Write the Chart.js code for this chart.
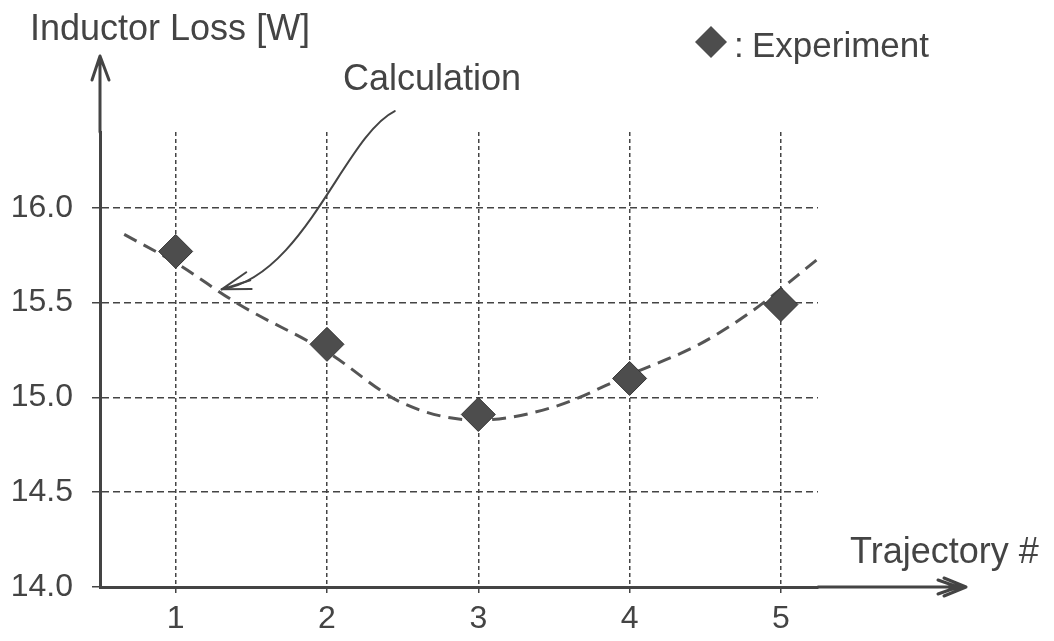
<!DOCTYPE html>
<html>
<head>
<meta charset="utf-8">
<script src="https://cdn.jsdelivr.net/npm/chart.js@4/dist/chart.umd.min.js"></script>
<style>
  html, body { margin: 0; padding: 0; background: #fff; }
</style>
</head>
<body>
<canvas id="chart" width="1054" height="641"></canvas>
<script>
// tick values
const xTicks = [1, 2, 3, 4, 5];
const yTicks = [14.0, 14.5, 15.0, 15.5, 16.0];

// measured points (diamonds)
const expX = [1, 2, 3, 4, 5];
const expY = [15.77, 15.28, 14.91, 15.10, 15.49];

// calculated curve
const calcX = [0.66, 1.0, 1.42, 2.0, 2.5, 3.0, 3.5, 4.0, 4.46, 4.8, 5.26];
const calcY = [15.86, 15.71, 15.49, 15.24, 14.97, 14.88, 14.95, 15.12, 15.28, 15.45, 15.74];

const ink = '#444';
const family = '"Liberation Sans", Arial, sans-serif';

// arrows, labels and the callout that Chart.js has no option for
const decor = {
  id: 'decor',
  afterDraw(chart) {
    const ctx = chart.ctx;
    const xs = chart.scales.x;
    const ys = chart.scales.y;
    const area = chart.chartArea;

    ctx.save();
    ctx.strokeStyle = ink;
    ctx.fillStyle = ink;
    ctx.lineCap = 'round';
    ctx.lineJoin = 'round';

    // y axis going up with open arrow head
    ctx.lineWidth = 3;
    ctx.beginPath();
    ctx.moveTo(area.left, area.top);
    ctx.lineTo(area.left, 56);
    ctx.moveTo(area.left - 8, 80);
    ctx.lineTo(area.left, 56);
    ctx.lineTo(area.left + 9, 80);
    ctx.stroke();

    // x axis going right, double head
    ctx.beginPath();
    ctx.moveTo(area.right, area.bottom);
    ctx.lineTo(966, area.bottom);
    ctx.moveTo(944, area.bottom - 9);
    ctx.lineTo(966, area.bottom);
    ctx.lineTo(944, area.bottom + 9);
    ctx.moveTo(938, area.bottom - 7);
    ctx.lineTo(958, area.bottom);
    ctx.lineTo(938, area.bottom + 7);
    ctx.stroke();

    // callout from "Calculation" to the dashed curve
    const p = [[2.448, 16.51], [2.117, 16.38], [1.853, 15.64], [1.304, 15.57]]
      .map(([vx, vy]) => [xs.getPixelForValue(vx), ys.getPixelForValue(vy)]);
    ctx.lineWidth = 2;
    ctx.beginPath();
    ctx.moveTo(p[0][0], p[0][1]);
    ctx.bezierCurveTo(p[1][0], p[1][1], p[2][0], p[2][1], p[3][0], p[3][1]);
    ctx.stroke();
    const ang = Math.atan2(p[2][1] - p[3][1], p[2][0] - p[3][0]);
    ctx.beginPath();
    [-0.45, -0.15, 0.15].forEach(d => {
      ctx.moveTo(p[3][0], p[3][1]);
      ctx.lineTo(p[3][0] + 30 * Math.cos(ang + d), p[3][1] + 30 * Math.sin(ang + d));
    });
    ctx.stroke();

    // legend diamond
    const lx = 711, ly = 42, r = 16;
    ctx.fillStyle = '#4d4d4d';
    ctx.beginPath();
    ctx.moveTo(lx - r, ly);
    ctx.lineTo(lx, ly - r);
    ctx.lineTo(lx + r, ly);
    ctx.lineTo(lx, ly + r);
    ctx.closePath();
    ctx.fill();

    // texts
    ctx.fillStyle = ink;
    ctx.textBaseline = 'alphabetic';
    ctx.textAlign = 'left';
    ctx.font = '36px ' + family;
    ctx.fillText('Inductor Loss [W]', 30, 40);
    ctx.fillText('Calculation', 343, 90);
    ctx.fillText('Trajectory #', 850, 563);
    ctx.font = '35px ' + family;
    ctx.fillText(':', 734, 57);
    ctx.fillText('Experiment', 752, 57);
    ctx.restore();
  }
};

new Chart(document.getElementById('chart'), {
  type: 'scatter',
  data: {
    datasets: [
      {
        label: 'Experiment',
        data: expX.map((x, i) => ({ x: x, y: expY[i] })),
        pointStyle: 'rectRot',
        pointRadius: 17,
        backgroundColor: '#4d4d4d',
        borderColor: '#333',
        borderWidth: 1,
        order: 0
      },
      {
        label: 'Calculation',
        data: calcX.map((x, i) => ({ x: x, y: calcY[i] })),
        showLine: true,
        pointRadius: 0,
        borderColor: '#555',
        borderWidth: 3,
        borderDash: [14, 8],
        cubicInterpolationMode: 'monotone',
        order: 1
      }
    ]
  },
  options: {
    responsive: false,
    animation: false,
    layout: { padding: { top: 132, right: 236, left: 0, bottom: 0 } },
    plugins: {
      legend: { display: false },
      tooltip: { enabled: false }
    },
    scales: {
      x: {
        type: 'linear',
        min: 0.5,
        max: 5.245,
        afterBuildTicks: s => { s.ticks = xTicks.map(v => ({ value: v })); },
        afterFit: s => { s.height = 54; },
        ticks: {
          color: ink,
          font: { size: 32, family: family },
          padding: 6,
          callback: v => String(v)
        },
        grid: { color: ink, lineWidth: 1.5, tickLength: 7, tickColor: ink, tickBorderDash: [4, 3] },
        border: { display: true, color: ink, width: 3, dash: [4, 3] }
      },
      y: {
        min: 14,
        max: 16.4,
        afterBuildTicks: s => { s.ticks = yTicks.map(v => ({ value: v })); },
        afterFit: s => { s.width = 100; },
        ticks: {
          color: ink,
          font: { size: 32, family: family },
          padding: 19,
          callback: v => v.toFixed(1)
        },
        grid: { color: ink, lineWidth: 1.5, tickLength: 8, tickColor: ink, tickBorderDash: [7, 4] },
        border: { display: true, color: ink, width: 3, dash: [7, 4] }
      }
    }
  },
  plugins: [decor]
});
</script>
</body>
</html>
